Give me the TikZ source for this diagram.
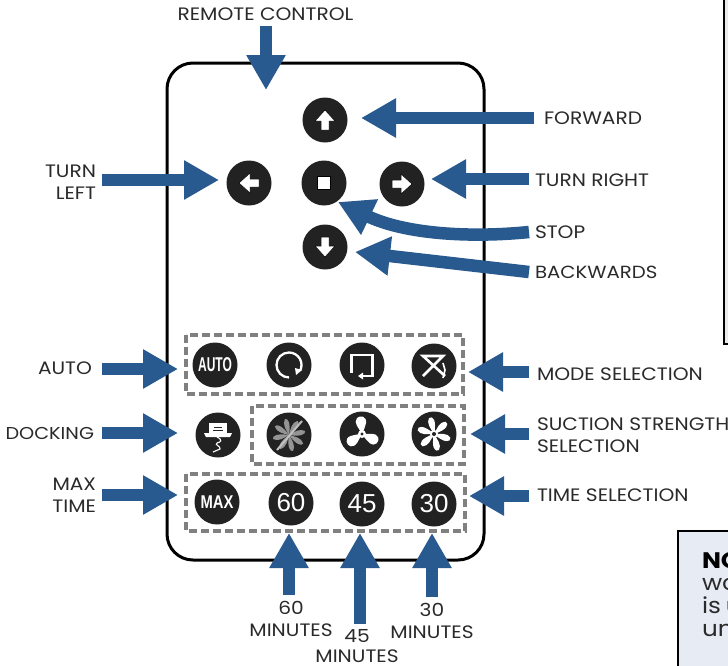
\documentclass[tikz,border=0pt]{standalone}
\usepackage{fontspec}
\usepackage{graphicx}
\setmainfont[FakeStretch=1.12]{Poppins}
\newfontfamily\btnfont{Liberation Sans}
\usetikzlibrary{arrows.meta}
\definecolor{arrowblue}{HTML}{285A8F}
\definecolor{btndark}{HTML}{222222}
\definecolor{dashgray}{HTML}{808080}
\definecolor{notefill}{HTML}{E6EBF4}
\definecolor{inktext}{HTML}{2A2A2A}
\tikzset{
  x=1pt,y=-1pt,
  lbl/.style={inner sep=0pt,outer sep=0pt,font=\fontsize{18pt}{22pt}\selectfont,text=inktext},
  notetxt/.style={inner sep=0pt,outer sep=0pt,font=\fontsize{22pt}{24pt}\selectfont,text=inktext,anchor=base west},
  btn/.style={circle,fill=btndark,minimum size=45pt,inner sep=0pt,outer sep=0pt,text=white},
  conn/.style={draw=arrowblue,line width=12.5pt,-{Triangle[length=35pt,width=37pt,fill=arrowblue]}},
  dashbox/.style={draw=dashgray,line width=3.4pt,dash pattern=on 8pt off 4pt},
  glyph/.style={draw=white,line width=2.3pt,line join=miter},
  dirglyph/.pic={
    \fill[white,draw=black,line width=0.5pt] (0,-10)--(10,1)--(4,1)--(4,10)--(-4,10)--(-4,1)--(-10,1)--cycle;
  },
  propblade/.pic={
    \fill[pic actions] (0,0) .. controls (-3,-6) and (-9,-11) .. (-5,-16) .. controls (-2,-19) and (5,-18) .. (4,-11) .. controls (3,-7) and (2,-4) .. (0,0);
  },
  petal/.pic={
    \fill[pic actions] (0,0) .. controls (-3,-5) and (-8,-11) .. (-5,-16) .. controls (-1,-19) and (3,-13) .. (0,0);
  },
  thinblade/.pic={
    \fill[pic actions] (0,0) .. controls (-3,-5) and (-7,-11) .. (-4,-16) .. controls (-1,-17) and (2,-12) .. (0,0);
  },
}
\begin{document}
\begin{tikzpicture}
\useasboundingbox (0,0) rectangle (728,665);
\fill[white] (0,0) rectangle (728,665);

% body of the remote
\draw[black,line width=3pt,rounded corners=26pt] (167,63) rectangle (484,560);

% side panel and note
\draw[black,line width=2.5pt,fill=white!92!black] (724,-5) rectangle (740,344);
\draw[black,line width=2.5pt,fill=notefill] (678,531) rectangle (740,670);
\begin{scope}
\clip (679,532) rectangle (728,665);
\node[notetxt,font=\fontsize{22.5pt}{24pt}\selectfont\bfseries,text=black] (noteA) at (702,568) {NO};
\node[notetxt] (noteB) at (702,590) {wo};
\node[notetxt] (noteC) at (702,613) {is\hspace{5pt}u};
\node[notetxt] (noteD) at (702,636) {un};
\end{scope}

% dashed groups
\draw[dashbox] (186,335) rectangle (463,394);
\draw[dashbox] (252,406) rectangle (464,464);
\draw[dashbox] (186,474) rectangle (465,531);

% buttons
\node[btn] (bUp) at (325,120) {};
\node[btn] (bLeft) at (249,183) {};
\node[btn] (bStop) at (324,183) {};
\node[btn] (bRight) at (402,184) {};
\node[btn] (bDown) at (325,247) {};
\node[btn,font=\btnfont\bfseries\fontsize{20pt}{20pt}\selectfont] (bAuto) at (215,365) {\scalebox{0.6}[1]{AUTO}};
\node[btn] (bLoop) at (289,365) {};
\node[btn] (bSpot) at (362,365) {};
\node[btn] (bZig) at (434,366) {};
\node[btn] (bDock) at (218,435) {};
\node[btn] (bFanOff) at (289,435) {};
\node[btn] (bFanLow) at (362,434) {};
\node[btn] (bFanHigh) at (434,434) {};
\node[btn,font=\btnfont\bfseries\fontsize{18.5pt}{20pt}\selectfont] (bMax) at (217,502) {\scalebox{0.8}[1]{MAX}};
\node[btn,font=\btnfont\fontsize{26pt}{26pt}\selectfont] (bSixty) at (291,503) {60};
\node[btn,font=\btnfont\fontsize{26pt}{26pt}\selectfont] (bFortyFive) at (362,504) {45};
\node[btn,font=\btnfont\fontsize{26pt}{26pt}\selectfont] (bThirty) at (434,504) {30};

% direction glyphs
\pic at (bUp.center) {dirglyph};
\pic[rotate=90] at (bLeft.center) {dirglyph};
\pic[rotate=-90] at (bRight.center) {dirglyph};
\pic[rotate=180] at (bDown.center) {dirglyph};
\fill[white,draw=black,line width=0.5pt] (317.5,176.5) rectangle (330.5,189.5);

% loop glyph
\begin{scope}[shift={(bLoop.center)}]
\draw[glyph] (-90:12.5pt) arc[start angle=-90,end angle=-385,radius=12.5pt];
\fill[white] (6,3) -- (13,5) -- (7,10) -- cycle;
\end{scope}
% spot glyph
\begin{scope}[shift={(bSpot.center)}]
\draw[glyph] (-10.5,8) -- (-10.5,-10) -- (10.5,-10) -- (10.5,11) -- (0,11);
\fill[white] (-4,11) -- (1,7.5) -- (1,14.5) -- cycle;
\end{scope}
% zigzag glyph
\begin{scope}[shift={(bZig.center)}]
\draw[glyph,line width=2.6pt] (11,10) -- (-11,-10) -- (9,-10) -- (-11,10);
\draw[white,line width=1.6pt] (9,12) -- (11,4) -- (9,-3);
\end{scope}
% docking glyph
\begin{scope}[shift={(bDock.center)}]
\fill[white] (-9,-12) rectangle (9,-2);
\fill[white] (-14,-2) -- (14,-2) -- (12,2) -- (-12,2) -- cycle;
\draw[btndark,line width=0.8pt] (-4,-8) -- (4,-8) (-5,-5) -- (5,-5);
\draw[white,line width=1.1pt] (-1,2) .. controls (5,5) and (3,7) .. (-1,8) .. controls (-4,10) and (3,11) .. (2,14) -- (-5,17);
\end{scope}
% fan glyphs
\begin{scope}[shift={(bFanOff.center)}]
\foreach \a in {0,45,...,315} {\pic[rotate=\a,fill=white!58!black] at (0,0) {thinblade};}
\draw[white!75!black,line width=2pt] (-12,15) -- (13,-14);
\end{scope}
\begin{scope}[shift={(bFanLow.center)}]
\foreach \a in {0,120,240} {\pic[rotate=\a,fill=white] at (0,0) {propblade};}
\fill[white] (0,0) circle[radius=4pt];
\fill[btndark] (0,0) circle[radius=1.6pt];
\end{scope}
\begin{scope}[shift={(bFanHigh.center)}]
\foreach \a in {0,60,...,300} {\pic[rotate=\a,fill=white] at (0,0) {petal};}
\fill[white] (0,0) circle[radius=4pt];
\fill[btndark] (0,0) circle[radius=2pt];
\end{scope}

% labels
\node[lbl,anchor=center] (lRemote) at (265.5,14) {REMOTE CONTROL};
\coordinate (cRemote) at (266,90);
\node[lbl,anchor=west] (lForward) at (544,118) {FORWARD};
\node[lbl,anchor=west] (lRight) at (535,180) {TURN RIGHT};
\node[lbl,anchor=west] (lStop) at (535,232) {STOP};
\node[lbl,anchor=west,font=\fontsize{17.6pt}{22pt}\selectfont] (lBack) at (535,272) {BACKWARDS};
\node[lbl,anchor=east,align=right] (lLeft) at (96,182) {TURN\\LEFT};
\node[lbl,anchor=east] (lAuto) at (92,368) {AUTO};
\node[lbl,anchor=east,font=\fontsize{17.2pt}{22pt}\selectfont] (lDock) at (94,433) {DOCKING};
\node[lbl,anchor=east,align=right] (lMax) at (96,495) {MAX\\TIME};
\node[lbl,anchor=west] (lMode) at (537,374) {MODE SELECTION};
\node[lbl,anchor=west,align=left] (lSuction) at (537,435) {SUCTION STRENGTH\\SELECTION};
\node[lbl,anchor=west] (lTime) at (537,495) {TIME SELECTION};
\node[lbl,anchor=center,align=center] (lSixty) at (291,619) {60\\MINUTES};
\node[lbl,anchor=center,align=center] (lFortyFive) at (357,646.5) {45\\[-2pt]MINUTES};
\node[lbl,anchor=center,align=center] (lThirty) at (432,621) {30\\MINUTES};

% connectors
\draw[conn] (lRemote.south -| cRemote) ++(0,6) -- (cRemote);
\draw[conn] ([xshift=-10pt]lForward.west) -- ([xshift=13.5pt,yshift=2pt]bUp.east);
\draw[conn] ([xshift=-6pt,yshift=1pt]lRight.west) -- ([xshift=6.5pt,yshift=5pt]bRight.east);
\draw[conn] ([xshift=-6pt]lStop.west) .. controls (470,238) and (405,234) .. ([xshift=14pt,yshift=-19pt]bStop.center);
\draw[conn] ([xshift=-6pt]lBack.west) -- ([xshift=7.5pt,yshift=-5pt]bDown.east);
\draw[conn] ([xshift=6pt,yshift=2pt]lLeft.east) -- ([xshift=-7.5pt,yshift=3pt]bLeft.west);
\draw[conn] ([xshift=10pt,yshift=-1pt]lAuto.east) -- ([xshift=-14.5pt,yshift=-4pt]bAuto.west);
\draw[conn] ([xshift=8pt]lDock.east) -- ([xshift=-17.5pt,yshift=2pt]bDock.west);
\draw[conn] ([xshift=6pt]lMax.east) -- ([xshift=-16.5pt,yshift=7pt]bMax.west);
\draw[conn] ([xshift=-8pt,yshift=2pt]lMode.west) -- ([xshift=11.5pt,yshift=-6pt]bZig.east);
\draw[conn] ([xshift=-8pt,yshift=1pt]lSuction.west) -- ([xshift=13.5pt]bFanHigh.east);
\draw[conn] ([xshift=-8pt,yshift=-1pt]lTime.west) -- ([xshift=12.5pt,yshift=8pt]bThirty.east);
\draw[conn] ([xshift=-2pt]bSixty.south |- lSixty.north) ++(0,-6) -- ([xshift=-2pt,yshift=-7.5pt]bSixty.south);
\draw[conn] ([xshift=-2pt]bFortyFive.south |- lFortyFive.north) ++(0,-6) -- ([xshift=-2pt,yshift=-6.5pt]bFortyFive.south);
\draw[conn] ([xshift=-2pt]bThirty.south |- lThirty.north) ++(0,-6) -- ([xshift=-2pt,yshift=-6.5pt]bThirty.south);
\end{tikzpicture}
\end{document}
